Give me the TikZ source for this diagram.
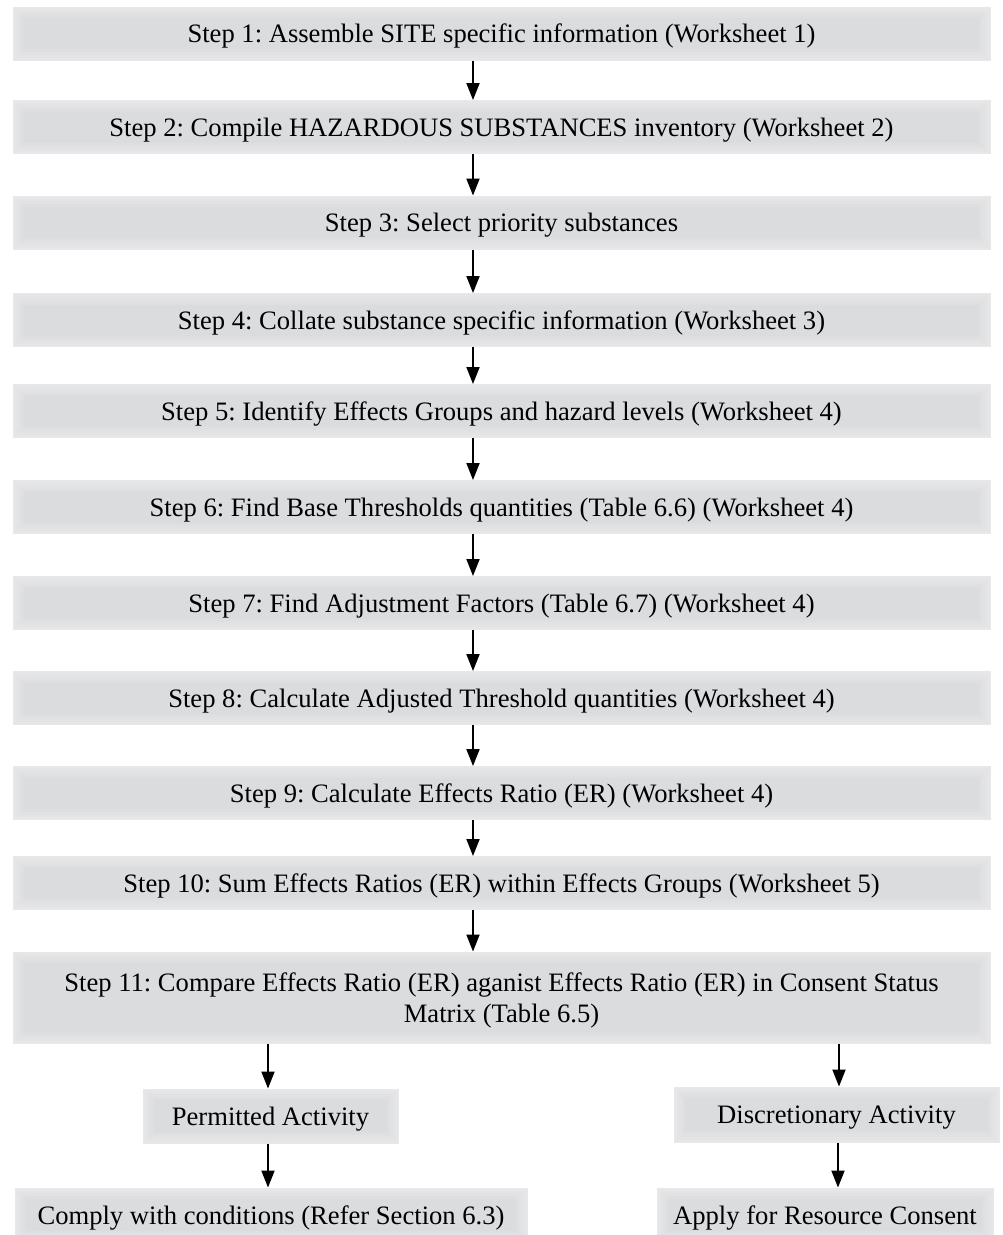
\documentclass[tikz,border=0pt]{standalone}
\usepackage{fontspec}
\setmainfont{Liberation Serif}
\usetikzlibrary{arrows.meta}
\frenchspacing
\definecolor{boxgray}{RGB}{219,220,222}
\definecolor{boxedge}{RGB}{232,232,233}
\tikzset{
  stepbox/.style={draw=boxedge, line width=1pt, fill=boxgray, rectangle,
    inner sep=0pt, align=center, font=\fontsize{26.6}{31}\selectfont, text=black, text depth=0pt,
    path picture={\foreach \w in {22,16,10,5}{\draw[white, opacity=0.1, line width=\w pt]
      (path picture bounding box.south west) rectangle (path picture bounding box.north east);}}},
  arr/.style={line width=2pt, -{Triangle[length=17pt,width=13pt]}}
}
\begin{document}
\begin{tikzpicture}[x=1pt,y=-1pt]
\useasboundingbox (0,0) rectangle (1002,1235);
\clip (0,0) rectangle (1002,1235);
\node[stepbox, minimum width=977pt, minimum height=53pt] (b1) at (501.5,33.5) {Step 1: Assemble SITE specific information (Worksheet 1)};
\node[stepbox, minimum width=977pt, minimum height=53pt] (b2) at (501.5,127) {Step 2: Compile HAZARDOUS SUBSTANCES inventory (Worksheet 2)};
\node[stepbox, minimum width=977pt, minimum height=53pt] (b3) at (501.5,222.5) {Step 3: Select priority substances};
\node[stepbox, minimum width=977pt, minimum height=53pt] (b4) at (501.5,320) {Step 4: Collate substance specific information (Worksheet 3)};
\node[stepbox, minimum width=977pt, minimum height=53pt] (b5) at (501.5,411) {Step 5: Identify Effects Groups and hazard levels (Worksheet 4)};
\node[stepbox, minimum width=977pt, minimum height=53pt] (b6) at (501.5,507) {Step 6: Find Base Thresholds quantities (Table 6.6) (Worksheet 4)};
\node[stepbox, minimum width=977pt, minimum height=53pt] (b7) at (501.5,603) {Step 7: Find Adjustment Factors (Table 6.7) (Worksheet 4)};
\node[stepbox, minimum width=977pt, minimum height=53pt] (b8) at (501.5,698) {Step 8: Calculate Adjusted Threshold quantities (Worksheet 4)};
\node[stepbox, minimum width=977pt, minimum height=53pt] (b9) at (501.5,793) {Step 9: Calculate Effects Ratio (ER) (Worksheet 4)};
\node[stepbox, minimum width=977pt, minimum height=53pt] (b10) at (501.5,883) {Step 10: Sum Effects Ratios (ER) within Effects Groups (Worksheet 5)};
\node[stepbox, minimum width=977pt, minimum height=91pt] (b11) at (501.5,997.5) {Step 11: Compare Effects Ratio (ER) aganist Effects Ratio (ER) in Consent Status\\Matrix (Table 6.5)};
\node[stepbox, minimum width=255pt, minimum height=54pt] (perm) at (270.5,1116) {Permitted Activity};
\node[stepbox, minimum width=325pt, minimum height=55pt] (disc) at (836.5,1114.5) {Discretionary Activity};
\node[stepbox, minimum width=512pt, minimum height=54pt] (comply) at (271,1215) {Comply with conditions (Refer Section 6.3)};
\node[stepbox, minimum width=336pt, minimum height=54pt] (apply) at (825,1215) {Apply for Resource Consent};
\foreach \a/\b in {b1/b2,b2/b3,b3/b4,b4/b5,b5/b6,b6/b7,b7/b8,b8/b9,b9/b10,b10/b11}{
  \draw[arr] ([xshift=-28.5pt]\a.south) -- ([xshift=-28.5pt]\b.north);
}
\draw[arr] ([xshift=-2.5pt]perm.north |- b11.south) -- ([xshift=-2.5pt]perm.north);
\draw[arr] ([xshift=2.5pt]disc.north |- b11.south) -- ([xshift=2.5pt]disc.north);
\draw[arr] ([xshift=-2.5pt]perm.south) -- ([xshift=-2.5pt]perm.south |- comply.north);
\draw[arr] (disc.south -| 838,0) -- (apply.north -| 838,0);
\end{tikzpicture}
\end{document}
